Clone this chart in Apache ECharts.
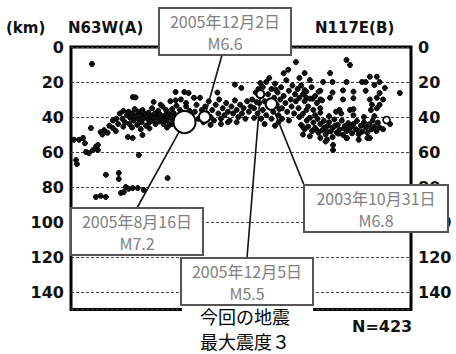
<!DOCTYPE html>
<html><head><meta charset="utf-8">
<script src="https://cdn.jsdelivr.net/npm/echarts@6/dist/echarts.min.js"></script>
<style>html,body{margin:0;padding:0;background:#fff}#chart{width:456px;height:354px}</style>
</head><body><div id="chart"></div>
<script>
// Depth section along N63W(A) - N117E(B); x = distance along section (km), y = depth (km)
const depthTicks = [0, 20, 40, 60, 80, 100, 120, 140];
const sectionLength = 195;
const maxDepth = 150;
const quakeCount = 423;

// scattered events, west end and deeper
const quakesWestDeep = [
  [12,9.7],[35.4,28.6],[37,28.8],[60,25.7],[65,25.7],[11.4,46.3],[17,48.6],[24,46.3],[25.7,48],
  [35.4,52],[41,50.3],[1.7,53],[4.6,53],[6.9,52],[14.3,57],[15.4,58.9],[12.6,58.9],[8.6,60],
  [38.9,61.7],[2.9,64.6],[3.4,66.9],[20,73],[27.4,72],[27.4,75.4],[55.4,74.9],[31.4,80],[33,81],
  [35.4,80.6],[38.3,80.6],[41.7,81.7],[28.6,83.4],[30.3,82.9],[14.3,85.7],[17,85],[20,85.7],
  [21,49],[10.3,60.6],[15.4,56],[32.6,51.4],[18,50],[8,55],[22,45],[19,47.5]
];
// main cluster, west side
const quakesWest = [
  [28,38],[29.5,41],[30,36.5],[31,43],[32,39],[33,37],[33.5,44],[34,40.5],[35,38],[36,42],
  [36.5,35.5],[37,39.5],[38,44.5],[38.5,37],[39,41.5],[40,39],[40.5,43],[41,36],[42,40.5],
  [42.5,38],[43,45],[44,41],[44.5,37.5],[45,43],[46,39.5],[46.5,35],[47,42],[48,38],[48.5,44],
  [49,40],[50,36.5],[50.5,42.5],[51,38.5],[52,41],[52.5,34],[53,44],[54,39],[54.5,36],[55,42],
  [56,38],[56.5,44.5],[57,40],[58,35.5],[58.5,42],[59,38],[60,41],[60.5,33.5],[61,44],[62,39],
  [62.5,36],[63,42],[64,37.5],[64.5,45],[65,40],[66,34],[66.5,38],[67,42],[68,36.5],[47.4,31.4],
  [51.4,33],[57,31],[60,30.5],[63,30],[66,32],[55,46],[45,46.5],[40,47],[35,46],[30,45.5],
  [26,41],[27,44],[24,42],[68,44],[69,39],[43.5,39.5],[53.5,41.5],[47.5,40.5],[58,44],[61.5,41.5]
];
// central part
const quakesCentral = [
  [71,37],[72,33],[73,41],[74,29],[75,36],[76,43],[77,34],[78,38],[79,31],[80,40],[81,36],
  [82,42],[83,33],[84.5,38],[85,30],[86,41],[87,35],[88,39],[89,32],[90,37],[91,42],[92,34],
  [93,38],[94,30.5],[95,36],[96,40],[97,33],[98,38],[99,35],[100,41],[101,31],[102,37],[103,34],
  [86,44],[90,43],[80,44.5],[95,43],[97.7,23.4],[94,21.5],[84,26],[70.5,29],[67.4,26.3],
  [104,30],[105,35],[106,26],[107,38],[108,32],[108.6,20.6],[109,28],[110,36],[110,22.9],[111,31],
  [112,20],[112,39],[113,27],[113.7,17.7],[114,34],[115,24],[116,37],[116.5,29],[117,21],[118,33],
  [118.5,26],[119,39],[120,30],[120.5,23],[121,35],[122,15],[122,28],[123,32],[123.5,19],[124,37],
  [124.6,13],[125,25],[126,30],[126.5,34],[127,22],[128,38],[128.5,27],[129,8.6],[129,31],[130,24],
  [130.5,35],[131,29],[121,41],[115,41],[109,41],[105,40.5],[119,43],[125,42],[117,45],[111,44],
  [106.5,31.5],[114.5,31],[119.5,35.5],[107.5,24],[117.5,24.5]
];
// east side: dense band near 40-50 km and shallower scatter
const quakesEast = [
  [131,40],[132,44.5],[133,38.2],[134,47],[135.2,42],[136,45.5],[137,40.4],[138.3,48],[139,43.2],
  [140,46.3],[141.4,41],[142,49],[143,44],[144.2,47.4],[145,42.2],[146,50],[147.3,45],[148,43],
  [149,48.2],[150.2,46],[151,41.4],[152.4,49],[153,44.4],[154,47.2],[155.3,42],[156,50.2],[157,45.2],
  [158.2,48],[159,43.5],[160,46.4],[161.2,49.3],[162,44],[163.4,47],[164,42.3],[165,50],[166.3,45],
  [167,48.4],[168,43],[169.2,46],[170,49],[171,44.2],[172.3,47],[173,42],[174,45.4],[175.2,48],
  [176,43.2],[177,46],[133,50],[137,51],[143,52],[150,51.5],[158,52],[165,53],[170,52],[140,39],
  [148,39.5],[155,38],[162,39],[168,40],[174,39.5],[135,36],[152,37],[160,36],[172,36],
  [141,47.5],[145.5,46],[151.5,45],[156.5,46.5],[161,45.3],[164.5,47.8],[147,48.5],[153.5,49.5],
  [146.9,53],[150.3,56],[150.3,58.9],[158.3,52],[171.4,52],[133,45.7],[146,54],
  [158,7.4],[160,10.3],[148.6,14.9],[134,14.9],[131,17.7],[137,18.9],[144.6,20],[150,20],[158,20],
  [166.9,20],[171.4,17],[175.4,17],[177,20],[174,21.7],[180,23.4],[169,20],
  [134,24.6],[143,25],[150,26],[156,24.8],[162,25.5],[169,25],[177,26.3],
  [135,29],[138.6,29.5],[143,30],[148.6,29],[156,30],[162,29.3],[171.4,30],[175.4,29],[179,30],
  [143,35],[154,36],[162,35.5],[175.4,35],[172.6,33],[177,33],
  [132,22],[133,27],[134,31],[135,25.5],[136,34],[137,29.5],[138,23],[139,36],[140,28],[141,32],
  [142,25.5],[143,37.5],[144,30.5],[188.6,26.3],[183,44],[179,47]
];

// notable events
const eventDates = ['2005年8月16日', '2005年12月2日', '2003年10月31日', '2005年12月5日'];
const eventMags = [7.2, 6.6, 6.8, 5.5];
const eventX = [65.1, 76.6, 114.9, 108.6];
const eventDepth = [42.9, 40.0, 32.6, 26.9];
const smallEventX = [181];
const smallEventDepth = [41.7];

// callout boxes (pixel layout) and the point where each leader leaves its box
const callouts = [
  { x: 71,  y: 208, w: 132, h: 47, ax: 137, ay: 208 },
  { x: 159, y: 8,   w: 132, h: 47, ax: 222, ay: 55 },
  { x: 304, y: 185, w: 144, h: 47, ax: 304, ay: 185 },
  { x: 181, y: 258, w: 132, h: 47, ax: 247, ay: 258 }
];

function magSize(m) {
  if (m >= 7) return 22;
  if (m >= 6.5) return 11.5;
  if (m >= 5) return 8;
  return 5;
}

const allQuakes = [].concat(quakesWestDeep, quakesWest, quakesCentral, quakesEast);
const labelFont = 'DejaVu Sans';

const chart = echarts.init(document.getElementById('chart'), null, { renderer: 'svg', width: 456, height: 354 });

const yAxisBase = {
  type: 'value', min: 0, max: maxDepth, interval: 20, inverse: true,
  axisLine: { show: false }, axisTick: { show: false },
  axisLabel: {
    margin: 7, color: '#111', fontFamily: labelFont, fontSize: 16, fontWeight: 'bold',
    formatter: v => depthTicks.includes(v) ? String(v) : ''
  }
};

chart.setOption({
  animation: false,
  backgroundColor: '#fff',
  grid: { left: 71, top: 47, width: 340, height: 262.5, show: true, borderColor: '#000', borderWidth: 3, backgroundColor: 'transparent' },
  xAxis: { type: 'value', min: 0, max: sectionLength, show: false },
  yAxis: [
    Object.assign({}, yAxisBase, {
      position: 'left',
      splitLine: { show: true, lineStyle: { color: '#444', type: [3, 2], width: 1 } }
    }),
    Object.assign({}, yAxisBase, { position: 'right', splitLine: { show: false } })
  ],
  series: [
    {
      type: 'scatter', name: 'quakes', data: allQuakes, symbol: 'circle', symbolSize: 5,
      itemStyle: { color: '#111', borderColor: '#000', borderWidth: 1, opacity: 1 }, z: 3, silent: true
    },
    {
      type: 'scatter', name: 'minor', data: smallEventX.map((x, i) => [x, smallEventDepth[i]]),
      symbol: 'circle', symbolSize: 7,
      itemStyle: { color: '#fff', borderColor: '#000', borderWidth: 1.6, opacity: 1 }, z: 4, silent: true
    },
    {
      type: 'scatter', name: 'events', data: eventX.map((x, i) => [x, eventDepth[i], eventMags[i]]),
      symbol: 'circle', symbolSize: v => magSize(v[2]),
      itemStyle: { color: '#fff', borderColor: '#000', borderWidth: 2, opacity: 1 }, z: 5, silent: true
    }
  ]
});

const graphics = [];
const txt = (text, x, y, opt) => Object.assign({
  type: 'text', z: 100,
  style: Object.assign({ text, x, y, fill: '#111', font: 'bold 15px "DejaVu Sans"', align: 'left', verticalAlign: 'middle' }, opt || {})
});

graphics.push(txt('(km)', 6, 28, { font: 'bold 15px "DejaVu Sans"' }));
graphics.push(txt('N63W(A)', 68, 28));
graphics.push(txt('N117E(B)', 315, 28));
graphics.push(txt('N=' + quakeCount, 352, 326, { font: 'bold 16px "DejaVu Sans"' }));

// white strip behind the lowest callout, breaking the frame below it
graphics.push({ type: 'rect', z: 90, shape: { x: 182, y: 300, width: 131, height: 16 }, style: { fill: '#fff' } });

eventX.forEach((x, i) => {
  const c = callouts[i];
  const p = chart.convertToPixel({ xAxisIndex: 0, yAxisIndex: 0 }, [x, eventDepth[i]]);
  const r = magSize(eventMags[i]) / 2 + 0.5;
  const dx = c.ax - p[0], dy = c.ay - p[1];
  const len = Math.sqrt(dx * dx + dy * dy);
  graphics.push({
    type: 'line', z: 80,
    shape: { x1: c.ax, y1: c.ay, x2: p[0] + dx / len * r, y2: p[1] + dy / len * r },
    style: { stroke: '#111', lineWidth: 1.6 }
  });
  graphics.push({
    type: 'rect', z: 95,
    shape: { x: c.x, y: c.y, width: c.w, height: c.h },
    style: { fill: '#fff', stroke: '#555', lineWidth: 2 }
  });
  const cx = c.x + c.w / 2;
  graphics.push(txt(eventDates[i], cx, c.y + 13, { align: 'center', fill: '#808080', font: '16px "Noto Sans CJK JP"' }));
  graphics.push(txt('M' + eventMags[i].toFixed(1), cx, c.y + 35, { align: 'center', fill: '#808080', font: '16px "Noto Sans CJK JP"' }));
});

graphics.push(txt('今回の地震', 245, 316, { align: 'center', font: '18px "Noto Sans CJK JP"', fill: '#000' }));
graphics.push(txt('最大震度３', 245, 341, { align: 'center', font: '18px "Noto Sans CJK JP"', fill: '#000' }));

chart.setOption({ graphic: graphics });
</script>
</body></html>
